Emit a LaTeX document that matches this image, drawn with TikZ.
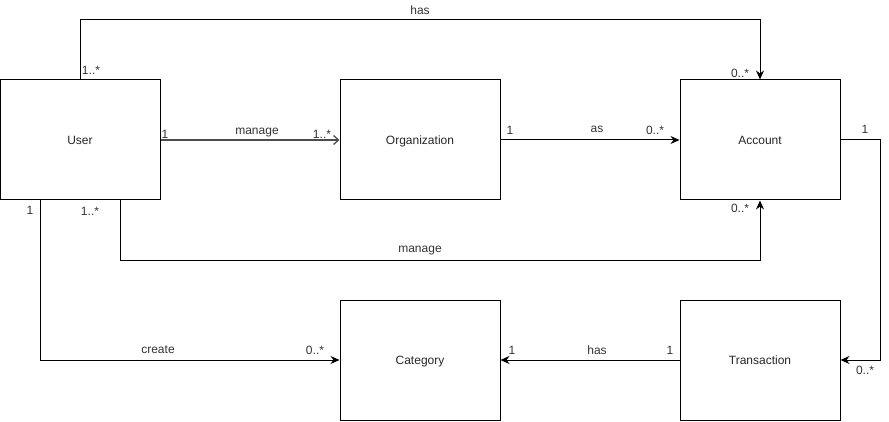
\documentclass[tikz,border=0pt]{standalone}
\usepackage{fontspec}
\setmainfont{Liberation Sans}
\usepackage{tikz}
\usetikzlibrary{arrows.meta}

\begin{document}
\begin{tikzpicture}[x=1pt,y=-1pt,line width=1pt,
  font=\fontsize{12}{14}\selectfont,
  entity/.style={draw,minimum width=160pt,minimum height=120pt,inner sep=0pt,text=black!85,text depth=0pt},
  assoc/.style={-{Stealth[length=9pt,width=8pt]}},
  lbl/.style={inner sep=0pt,text=black!80}]
\useasboundingbox (0,0) rectangle (889,422);

% Entities
\node[entity] (user) at (80,140) {User};
\node[entity] (org) at (420,140) {Organization};
\node[entity] (account) at (760,140) {Account};
\node[entity] (category) at (420,360) {Category};
\node[entity] (trans) at (760,360) {Transaction};

% User has Account
\draw[assoc] (user.north) -- ++(0,-60) -| (account.north);
\node[lbl] (hasTop) at (420,10) {has};
\node[lbl] (hasTopA) at (91,70) {1..*};
\node[lbl] (hasTopB) at (740,73) {0..*};

% User manage Organization
\draw[black!70,line width=1.3pt,-{Straight Barb[length=5pt,width=9pt]}] (user.east) -- (org.west);
\node[lbl] (mngOrg) at (257,133) {manage};
\node[lbl] (mngOrgA) at (165,134) {1};
\node[lbl] (mngOrgB) at (322,134) {1..*};

% Organization as Account
\draw[assoc] (org.east) -- (account.west);
\node[lbl] (as) at (597,129) {as};
\node[lbl] (asA) at (510,130) {1};
\node[lbl] (asB) at (655,130) {0..*};

% User manage Account
\draw[assoc] ([xshift=40pt]user.south) -- ++(0,60) -| (account.south);
\node[lbl] (mngAcc) at (420,251) {manage};
\node[lbl] (mngAccA) at (90,211) {1..*};
\node[lbl] (mngAccB) at (740,208) {0..*};

% User create Category
\draw[assoc] ([xshift=-40pt]user.south) |- (category.west);
\node[lbl] (create) at (158,350) {create};
\node[lbl] (createA) at (30,210) {1};
\node[lbl] (createB) at (315,350) {0..*};

% Transaction has Category
\draw[assoc] (trans.west) -- (category.east);
\node[lbl] (hasCat) at (597,350) {has};
\node[lbl] (hasCatA) at (670,350) {1};
\node[lbl] (hasCatB) at (512,350) {1};

% Account to Transaction
\draw[assoc] (account.east) -- ++(40,0) |- (trans.east);
\node[lbl] (accTrA) at (865,129) {1};
\node[lbl] (accTrB) at (865,370) {0..*};

\end{tikzpicture}
\end{document}
